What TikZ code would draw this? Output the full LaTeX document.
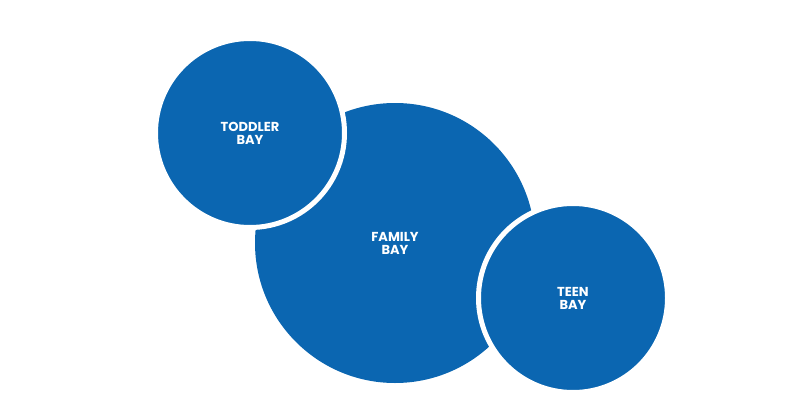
\documentclass[tikz,border=0pt]{standalone}
\usepackage{fontspec}
\setmainfont{Poppins}
\definecolor{bayblue}{HTML}{0B66B1}
\begin{document}
\begin{tikzpicture}[x=1pt,y=-1pt,
  bay/.style={circle,fill=bayblue,inner sep=0pt,text=white,font=\bfseries\fontsize{13}{13}\selectfont,align=center},
  ring/.style={bay,draw=white,line width=5pt}]
\useasboundingbox (0,0) rectangle (800,420);
\node[bay,minimum size=280pt] (family) at (395,243) {FAMILY\\BAY};
\node[ring,minimum size=189pt] (toddler) at (250,133) {TODDLER\\BAY};
\node[ring,minimum size=189pt] (teen) at (573,298) {TEEN\\BAY};
\end{tikzpicture}
\end{document}
